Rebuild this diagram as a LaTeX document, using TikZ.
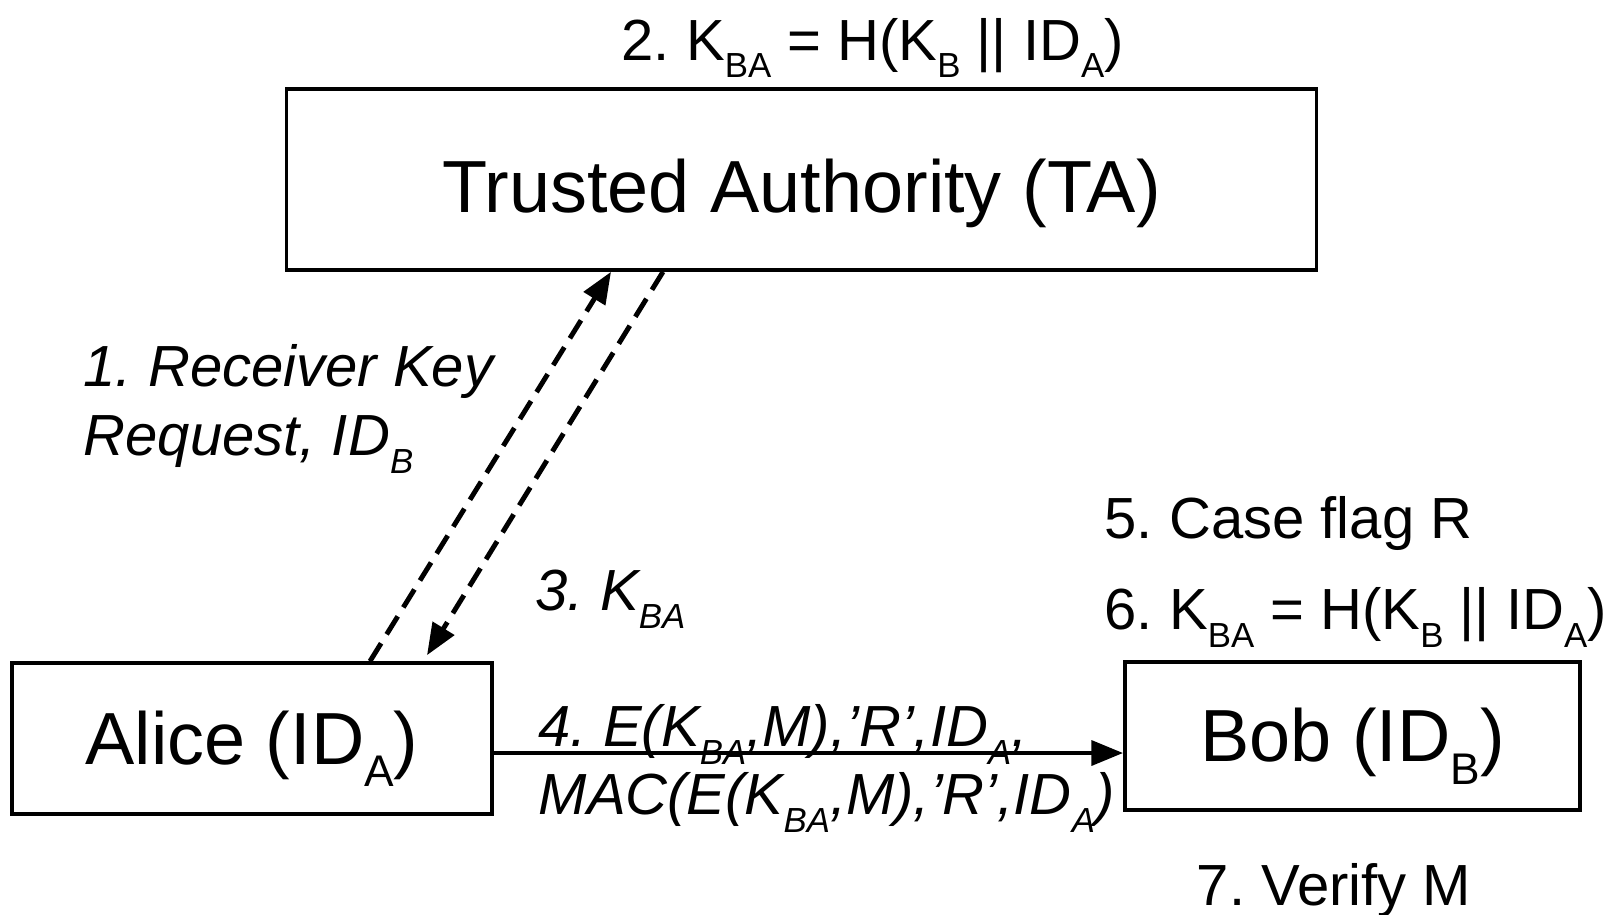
\documentclass[tikz,border=0pt]{standalone}
\usepackage{fontspec}
\setmainfont{Liberation Sans}
\usetikzlibrary{arrows.meta,calc}
% lowered, smaller index text
\newcommand{\sbs}[1]{\raisebox{-.31em}{\scalebox{.6}{#1}}}
\frenchspacing

\begin{document}
\begin{tikzpicture}[x=.01cm,y=-.01cm,
  party/.style={draw,line width=1pt,inner sep=0pt,text height=14.5pt,text depth=0pt,font=\fontsize{21}{25}\selectfont},
  lbl/.style={inner sep=0pt,anchor=base west,font=\fontsize{16.5}{20}\selectfont},
  ilbl/.style={lbl,font=\fontsize{16.5}{20}\selectfont\itshape},
  msg/.style={line width=1.4pt,dash pattern=on 6pt off 3pt,-{Triangle[length=9pt,width=7pt]}}]
\useasboundingbox (0,0) rectangle (1621,914);

% the three parties
\node[party,text height=18.8pt,minimum width=10.29cm,minimum height=1.81cm] (ta) at (801.5,179.5) {Trusted Authority (TA)};
\node[party,minimum width=4.8cm,minimum height=1.51cm] (alice) at (252,738.5) {Alice (ID\sbs{A})};
\node[party,minimum width=4.55cm,minimum height=1.48cm] (bob) at (1352.5,736) {Bob (ID\sbs{B})};

% steps
\node[lbl] (kta) at (621,60) {2. K\sbs{BA} = H(K\sbs{B} || ID\sbs{A})};
\node[ilbl] (req1) at (83,386) {1. Receiver Key};
\node[ilbl] (req2) at (83,455) {Request, ID\sbs{B}};
\node[ilbl] (key) at (535,610) {3. K\sbs{BA}};
\node[ilbl] (m1) at (538,746) {4. E(K\sbs{BA},M),’R’,ID\sbs{A},};
\node[ilbl] (m2) at (538,814) {MAC(E(K\sbs{BA},M),’R’,ID\sbs{A})};
\node[lbl] (flag) at (1104,538) {5. Case flag R};
\node[lbl] (kb) at (1104,629) {6. K\sbs{BA} = H(K\sbs{B} || ID\sbs{A})};
\node[lbl,anchor=base] (ver) at (1334,905) {7. Verify M};

% messages
\draw[msg] ($(alice.north)+(118,0)$) -- ($(ta.south)+(-190.5,0)$);
\draw[msg] ($(ta.south)+(-138.5,0)$) -- ($(alice.north)+(175,-6)$);
\draw[line width=1.3pt,-{Triangle[length=9pt,width=7pt]}] ($(alice.east)+(0,14.5)$) coordinate (s) -- (s -| bob.west);

\end{tikzpicture}
\end{document}
